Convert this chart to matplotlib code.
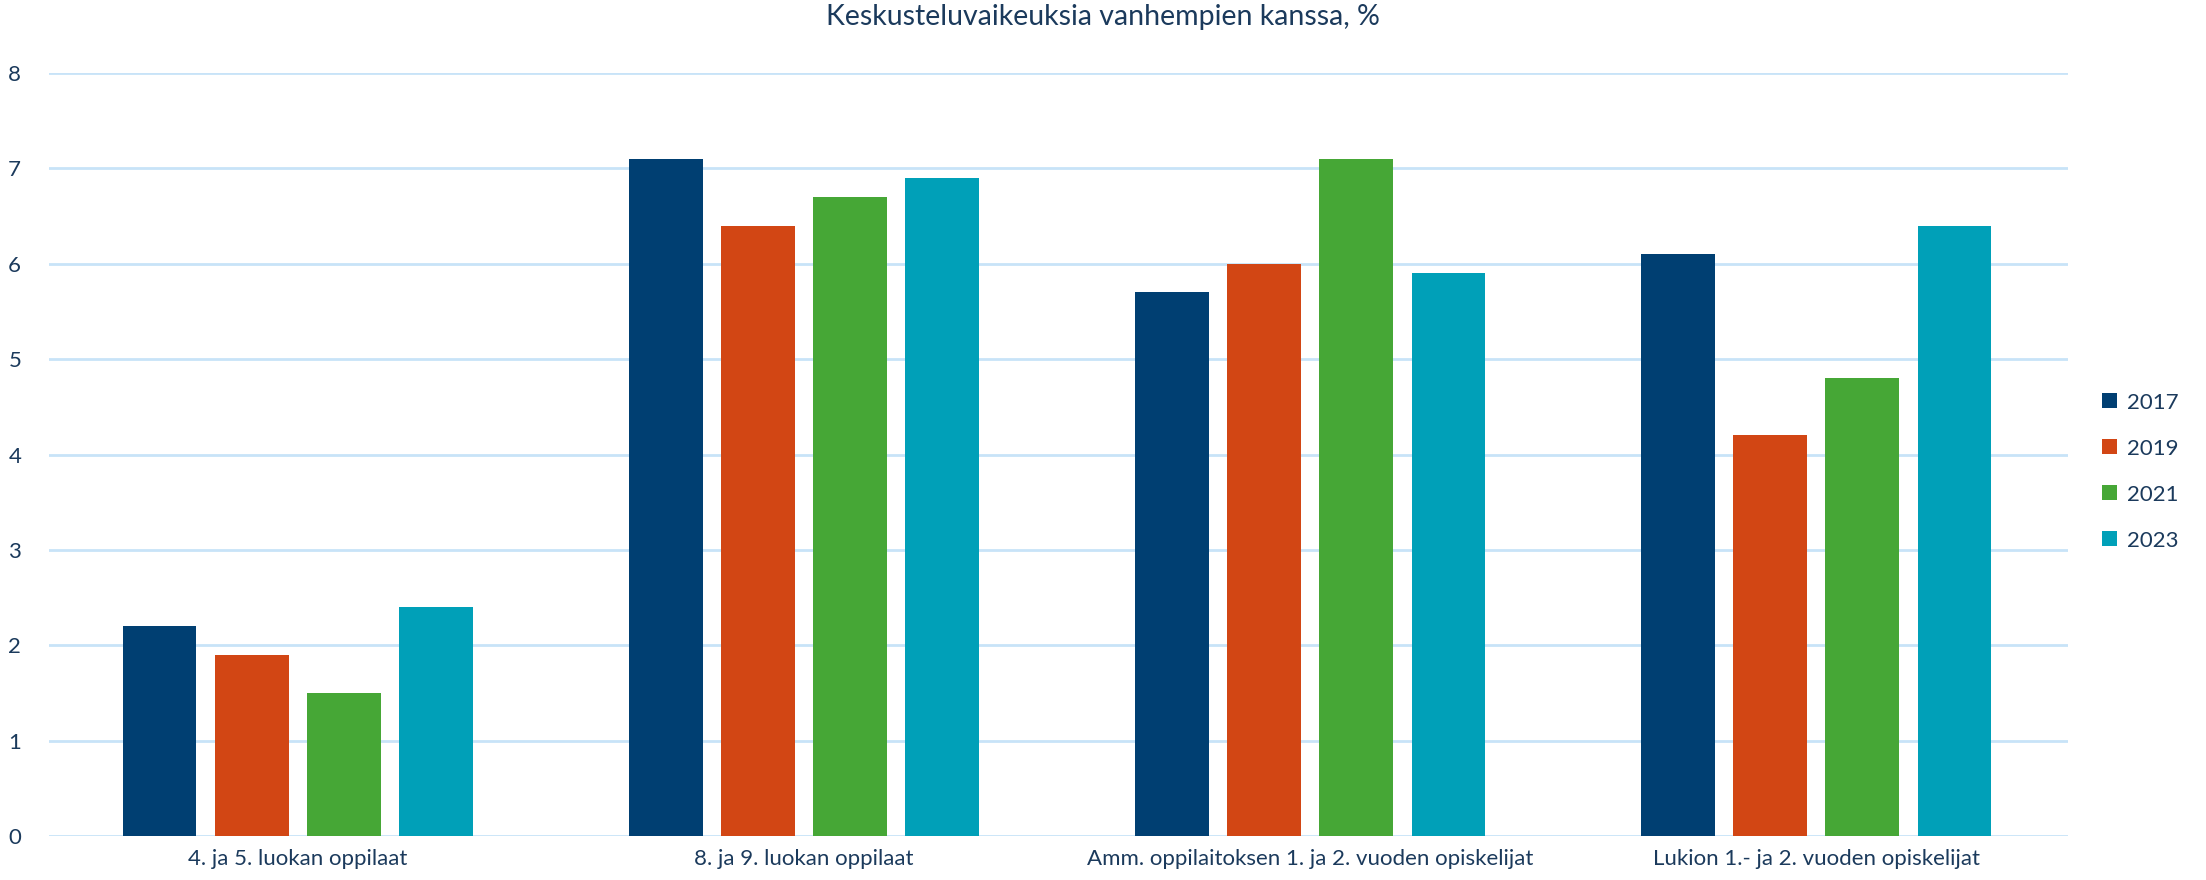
import numpy as np
import matplotlib
matplotlib.use("Agg")
import matplotlib.pyplot as plt

plt.rcParams['font.family'] = ['Lato', 'DejaVu Sans']

categories = ["4. ja 5. luokan oppilaat", "8. ja 9. luokan oppilaat",
              "Amm. oppilaitoksen 1. ja 2. vuoden opiskelijat",
              "Lukion 1.- ja 2. vuoden opiskelijat"]
years = ["2017", "2019", "2021", "2023"]
v2017 = [2.2, 7.1, 5.7, 6.1]
v2019 = [1.9, 6.4, 6.0, 4.2]
v2021 = [1.5, 6.7, 7.1, 4.8]
v2023 = [2.4, 6.9, 5.9, 6.4]
yticks = [0, 1, 2, 3, 4, 5, 6, 7, 8]

colors = ["#003F72", "#D24614", "#46A736", "#00A0B8"]
text_col = "#1B3A5C"

fig = plt.figure(figsize=(22.06, 8.8), dpi=100)
ax = fig.add_axes([0.0222, 0.05, 0.9153, 0.867])

x = np.arange(len(categories))
step = 0.182
width = 0.145
for i, (vals, yr) in enumerate(zip([v2017, v2019, v2021, v2023], years)):
    ax.bar(x + (i - 1.5) * step, vals, width, color=colors[i], label=yr, zorder=3)

ax.set_xlim(-0.492, 3.498)
ax.set_ylim(0, 8)
ax.set_yticks(yticks)
ax.set_yticklabels([str(t) for t in yticks])
ax.set_xticks(x)
ax.set_xticklabels(categories)
ax.grid(axis='y', color="#C8E3F8", linewidth=2, zorder=0)
for s in ax.spines.values():
    s.set_visible(False)
ax.tick_params(axis='both', length=0, labelsize=16, labelcolor=text_col)
ax.tick_params(axis='y', pad=20)
ax.tick_params(axis='x', pad=9)

fig.suptitle("Keskusteluvaikeuksia vanhempien kanssa, %", fontsize=20.5,
             color=text_col, x=0.5, y=0.995, va='top')

handles, labels = ax.get_legend_handles_labels()
leg = fig.legend(handles, labels, loc='center left', bbox_to_anchor=(0.953, 0.464),
                 frameon=False, fontsize=16, handlelength=0.65, handleheight=0.65,
                 labelspacing=1.17, handletextpad=0.45, borderpad=0, borderaxespad=0)
for t in leg.get_texts():
    t.set_color(text_col)

fig.savefig("out.png", dpi=100)
